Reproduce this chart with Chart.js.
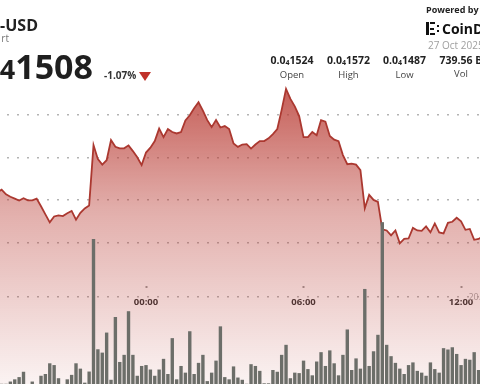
<!DOCTYPE html>
<html>
<head>
<meta charset="utf-8">
<script src="https://cdn.jsdelivr.net/npm/chart.js@4.4.1/dist/chart.umd.min.js"></script>
<style>
html, body { margin: 0; padding: 0; background: #fff; }
#wrap { position: relative; width: 480px; height: 384px; overflow: hidden; font-family: 'Open Sans', sans-serif; }
#chart { position: absolute; left: -8px; top: 0; }
.t { position: absolute; white-space: nowrap; line-height: 1; }
.stat { position: absolute; width: 64px; text-align: center; white-space: nowrap; line-height: 1; }
.stat .v { font-size: 10.5px; font-weight: 700; color: #222; }
.stat .l { font-size: 9.5px; color: #444; margin-top: 4px; }
.big sub { vertical-align: baseline; }
.stat sub { font-size: 7px; vertical-align: -1px; }
.ic { position: absolute; background: #111; }
</style>
</head>
<body>
<div id="wrap">
  <canvas id="chart" width="508" height="386"></canvas>

  <!-- header, left -->
  <div class="t" style="right:442px; top:16.5px; font-size:16px; font-weight:700; color:#222;">-USD</div>
  <div class="t" style="right:471px; top:33px; font-size:10px; color:#777;">rt</div>
  <div class="t big" style="right:387px; top:49.2px; font-size:34px; font-weight:700; color:#1f1f1f;">0.0<sub style="font-size:27px;">4</sub>1508</div>
  <div class="t" style="left:104px; top:69.6px; font-size:10px; font-weight:700; color:#333;">-1.07%</div>
  <div class="t" style="left:138.5px; top:71.5px; width:0; height:0; border-left:6px solid transparent; border-right:6px solid transparent; border-top:9px solid #c0322a;"></div>

  <!-- header, right -->
  <div class="t" style="left:426px; top:4.5px; font-size:9px; font-weight:700; color:#222;">Powered by</div>
  <div class="ic" style="left:426px; top:22px; width:3px; height:13px;"></div>
  <div class="ic" style="left:430px; top:22px; width:5px; height:2px;"></div>
  <div class="ic" style="left:430px; top:27.5px; width:4px; height:2px;"></div>
  <div class="ic" style="left:430px; top:33px; width:5px; height:2px;"></div>
  <div class="ic" style="left:437px; top:25px; width:2px; height:2px;"></div>
  <div class="ic" style="left:437px; top:30px; width:2px; height:2px;"></div>
  <div class="t" style="left:442px; top:22px; font-size:14px; font-weight:700; color:#111;">CoinDesk</div>
  <div class="t" style="left:428px; top:40px; font-size:10px; color:#a0a0a0;">27 Oct 2025</div>

  <div class="stat" style="left:260px; top:54.7px;"><div class="v">0.0<sub>4</sub>1524</div><div class="l">Open</div></div>
  <div class="stat" style="left:316.5px; top:54.7px;"><div class="v">0.0<sub>4</sub>1572</div><div class="l">High</div></div>
  <div class="stat" style="left:372.5px; top:54.7px;"><div class="v">0.0<sub>4</sub>1487</div><div class="l">Low</div></div>
  <div class="stat" style="left:429px; top:54.7px;"><div class="v">739.56 B</div><div class="l">Vol</div></div>
</div>

<script>
// ─── Data (10-minute slots, slot 0 = 00:00) ───
const firstSlot = -34;

// price in units of 0.0₄ (1508 = 0.00001508)
const priceE8 = [
  1523.6, 1524.8, 1522.6, 1521.5, 1520.6, 1519.7, 1520.8, 1519.8, 1519.8, 1520.6,
  1517.0, 1513.2, 1509.4, 1512.2, 1512.7, 1512.4, 1513.7, 1514.8, 1510.7, 1513.9,
  1516.0, 1517.4, 1545.8, 1539.2, 1536.6, 1538.7, 1548.2, 1545.0, 1544.3, 1544.3,
  1545.7, 1543.0, 1540.1, 1536.4, 1542.3, 1544.6, 1547.7, 1553.6, 1549.6, 1553.4,
  1552.0, 1551.3, 1552.0, 1557.4, 1559.9, 1563.2, 1566.0, 1562.1, 1557.6, 1554.3,
  1557.6, 1554.1, 1554.8, 1553.4, 1546.6, 1545.0, 1546.1, 1546.3, 1544.2, 1546.1,
  1547.7, 1547.7, 1549.0, 1551.0, 1553.4, 1562.4, 1572.3, 1567.6, 1564.1, 1559.5,
  1549.6, 1549.6, 1552.0, 1550.5, 1557.6, 1556.9, 1550.1, 1548.4, 1547.7, 1541.1,
  1536.8, 1537.1, 1536.6, 1534.0, 1516.0, 1522.4, 1520.0, 1519.1, 1506.1, 1505.6,
  1503.3, 1505.6, 1499.5, 1501.6, 1501.8, 1506.8, 1505.6, 1505.4, 1507.5, 1504.7,
  1508.9, 1504.7, 1504.2, 1509.2, 1509.7, 1511.6, 1509.9, 1505.9, 1506.3, 1501.2,
  1501.6, 1502.8
];

// volume in billions
const volumeB = [
  1.1, 0.5, 0.5, 1.0, 1.5, 2.0, 3.2, 0.2, 1.0, 0.2,
  2.3, 2.7, 5.1, 4.7, 1.75, 0.4, 1.5, 2.5, 5.1, 3.9,
  0.75, 3.25, 33.0, 8.25, 7.5, 12.0, 1.4, 15.5, 5.4, 7.0,
  16.8, 7.0, 2.3, 4.5, 4.7, 3.7, 2.3, 3.7, 6.1, 2.7,
  10.75, 1.5, 4.5, 3.0, 12.3, 2.7, 5.2, 7.0, 1.1, 3.0,
  5.7, 13.4, 2.0, 1.5, 4.4, 1.9, 1.4, 0.5, 4.9, 4.5,
  3.4, 0.6, 0.6, 3.6, 3.2, 7.0, 9.25, 1.75, 3.0, 2.9,
  5.7, 3.8, 2.4, 5.5, 7.6, 4.5, 8.0, 5.1, 2.4, 7.0,
  12.7, 3.6, 6.2, 3.9, 21.8, 4.5, 7.8, 11.5, 36.8, 9.25,
  6.7, 5.2, 3.9, 2.7, 4.7, 5.3, 3.4, 3.0, 2.3, 5.3,
  3.8, 3.0, 8.5, 8.2, 8.7, 7.2, 4.7, 6.1, 5.9, 7.6,
  3.6, 1.9
];

const priceGrid = [1500, 1520, 1540, 1560];
const volumeGrid = [20];
const timeTickSlots = [0, 36, 72];
const timeTickLabels = ['00:00', '06:00', '12:00'];

// ─── Styling ───
const FONT = "'Open Sans', sans-serif";
const GRID = { color: '#b3b3b3', lineWidth: 1.5, drawTicks: false };
const DOTS = { display: false, dash: [2, 8], dashOffset: 5 };

// y axes sit inside the plot, so they take no room
function noRoom(scale) {
    scale.width = 0;
    scale.paddingTop = 0;
    scale.paddingBottom = 0;
}

function areaFill(context) {
    const { chart } = context;
    const { ctx, chartArea, scales } = chart;
    if (!chartArea) return null;
    const top = scales.price.getPixelForValue(Math.max(...priceE8));
    const g = ctx.createLinearGradient(0, top, 0, chartArea.bottom);
    g.addColorStop(0, 'rgba(185,60,52,0.82)');
    g.addColorStop(0.4, 'rgba(185,60,52,0.42)');
    g.addColorStop(1, 'rgba(185,60,52,0.06)');
    return g;
}

const pricePoints = priceE8.map((v, i) => ({ x: firstSlot + i, y: v }));
const volumeBars = volumeB.map((v, i) => ({ x: firstSlot + i, y: v }));

new Chart(document.getElementById('chart'), {
    type: 'line',
    data: {
        datasets: [
            {
                type: 'bar',
                data: volumeBars,
                yAxisID: 'vol',
                backgroundColor: '#6c6e69',
                barPercentage: 0.86,
                categoryPercentage: 0.9,
                order: 0
            },
            {
                type: 'line',
                data: pricePoints,
                yAxisID: 'price',
                borderColor: '#ab3830',
                borderWidth: 1.8,
                pointRadius: 0,
                tension: 0,
                fill: 'start',
                backgroundColor: areaFill,
                order: 1
            }
        ]
    },
    options: {
        responsive: false,
        animation: false,
        devicePixelRatio: 1,
        layout: { padding: 0, autoPadding: false },
        plugins: { legend: { display: false }, tooltip: { enabled: false } },
        scales: {
            x: {
                type: 'linear',
                min: -35.2,
                max: 80.9,
                offset: false,
                position: { price: 1479.4 },
                grid: { offset: false, drawOnChartArea: false, drawTicks: true, tickLength: 2, tickWidth: 2, tickColor: '#9a9a9a' },
                border: { display: false },
                afterBuildTicks: s => { s.ticks = timeTickSlots.map(v => ({ value: v })); },
                ticks: {
                    autoSkip: false,
                    maxRotation: 0,
                    padding: 9,
                    color: '#333',
                    font: { family: FONT, weight: 'bold', size: 9.5 },
                    callback: v => timeTickLabels[timeTickSlots.indexOf(v)]
                }
            },
            price: {
                position: 'right',
                min: 1432.3,
                max: 1614.2,
                afterBuildTicks: s => { s.ticks = priceGrid.map(v => ({ value: v })); },
                afterFit: noRoom,
                ticks: { display: false },
                grid: GRID,
                border: DOTS
            },
            vol: {
                position: 'right',
                min: 0,
                max: 86.7,
                afterBuildTicks: s => { s.ticks = volumeGrid.map(v => ({ value: v })); },
                afterFit: noRoom,
                ticks: {
                    mirror: true,
                    padding: -8,
                    color: '#a8a8a8',
                    font: { family: FONT, size: 9 },
                    callback: v => v.toFixed(1) + 'B'
                },
                grid: GRID,
                border: DOTS
            }
        }
    }
});
</script>
</body>
</html>
